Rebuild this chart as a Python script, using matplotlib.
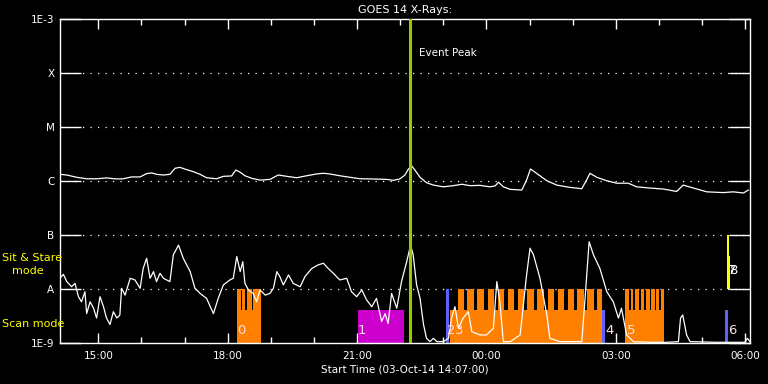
import matplotlib
matplotlib.use("Agg")
import matplotlib.pyplot as plt
from matplotlib.ticker import FixedLocator, FuncFormatter

# hours since 00:00 on 03-Oct-14
t_long = [14.11, 14.27, 14.5, 14.73, 14.96, 15.19, 15.43, 15.58, 15.77, 15.97,
          16.12, 16.24, 16.35, 16.51, 16.66, 16.78, 16.89, 17.05, 17.2, 17.36,
          17.51, 17.74, 17.9, 18.09, 18.19, 18.29, 18.4, 18.56, 18.75, 18.98,
          19.17, 19.37, 19.6, 19.83, 20.06, 20.22, 20.37, 20.6, 20.84, 21.07,
          21.38, 21.69, 21.84, 21.99, 22.11, 22.19, 22.27, 22.34, 22.46, 22.61,
          22.77, 23.0, 23.23, 23.43, 23.62, 23.85, 24.08, 24.2, 24.28, 24.39,
          24.55, 24.82, 24.93, 25.02, 25.16, 25.4, 25.63, 25.94, 26.21, 26.32,
          26.4, 26.56, 26.79, 27.02, 27.29, 27.48, 27.79, 28.1, 28.41, 28.56,
          28.8, 29.11, 29.49, 29.72, 29.96, 30.07]
flux_long = [1.33e-6, 1.29e-6, 1.17e-6, 1.1e-6, 1.1e-6, 1.14e-6, 1.09e-6, 1.1e-6, 1.19e-6, 1.19e-6,
             1.37e-6, 1.41e-6, 1.33e-6, 1.29e-6, 1.33e-6, 1.72e-6, 1.79e-6, 1.62e-6, 1.49e-6, 1.33e-6,
             1.15e-6, 1.1e-6, 1.22e-6, 1.24e-6, 1.6e-6, 1.45e-6, 1.25e-6, 1.12e-6, 1.04e-6, 1.07e-6,
             1.29e-6, 1.22e-6, 1.15e-6, 1.25e-6, 1.35e-6, 1.39e-6, 1.35e-6, 1.25e-6, 1.17e-6, 1.1e-6,
             1.09e-6, 1.07e-6, 1.03e-6, 1.09e-6, 1.29e-6, 1.67e-6, 1.89e-6, 1.6e-6, 1.17e-6, 0.93e-6,
             0.84e-6, 0.78e-6, 0.82e-6, 0.87e-6, 0.82e-6, 0.83e-6, 0.78e-6, 0.81e-6, 0.95e-6, 0.78e-6,
             0.7e-6, 0.68e-6, 1.04e-6, 1.67e-6, 1.39e-6, 1.01e-6, 0.84e-6, 0.76e-6, 0.72e-6, 1.04e-6,
             1.39e-6, 1.17e-6, 1.01e-6, 0.91e-6, 0.91e-6, 0.78e-6, 0.74e-6, 0.71e-6, 0.64e-6, 0.84e-6,
             0.74e-6, 0.63e-6, 0.61e-6, 0.63e-6, 0.6e-6, 0.68e-6]

t_short = [14.11, 14.19, 14.27, 14.38, 14.46, 14.54, 14.61, 14.69, 14.73, 14.81,
           14.89, 14.96, 15.04, 15.12, 15.19, 15.27, 15.35, 15.43, 15.5, 15.54,
           15.62, 15.74, 15.85, 15.97, 16.04, 16.12, 16.2, 16.28, 16.35, 16.43,
           16.51, 16.66, 16.74, 16.86, 16.97, 17.13, 17.24, 17.36, 17.51, 17.67,
           17.78, 17.9, 18.05, 18.13, 18.21, 18.29, 18.35, 18.4, 18.48, 18.59,
           18.67, 18.75, 18.87, 18.98, 19.06, 19.14, 19.21, 19.29, 19.41, 19.52,
           19.68, 19.79, 19.95, 20.1, 20.22, 20.33, 20.45, 20.6, 20.76, 20.87,
           20.99, 21.11, 21.22, 21.34, 21.45, 21.57, 21.65, 21.72, 21.8, 21.92,
           22.03, 22.15, 22.24, 22.3, 22.38, 22.46, 22.54, 22.61, 22.69, 22.77,
           22.85, 23.0, 23.12, 23.19, 23.27, 23.35, 23.46, 23.58, 23.66, 23.85,
           24.0, 24.16, 24.24, 24.31, 24.39, 24.55, 24.78, 24.93, 25.01, 25.09,
           25.24, 25.4, 25.47, 25.7, 26.01, 26.21, 26.28, 26.38, 26.48, 26.63,
           26.79, 26.94, 27.06, 27.13, 27.25, 27.41, 27.79, 28.18, 28.45, 28.5,
           28.55, 28.64, 28.72, 29.34, 29.99, 30.05, 30.11]
flux_short = [1.58e-8, 1.87e-8, 1.37e-8, 1.1e-8, 1.27e-8, 7.2e-9, 5.8e-9, 8.9e-9, 3.5e-9, 5.8e-9,
              4.4e-9, 2.9e-9, 7.2e-9, 4.7e-9, 2.9e-9, 2.2e-9, 3.8e-9, 2.9e-9, 3.3e-9, 1.03e-8,
              7.7e-9, 1.58e-8, 1.47e-8, 1.03e-8, 2.4e-8, 3.7e-8, 1.58e-8, 2.1e-8, 1.37e-8, 1.95e-8,
              1.58e-8, 1.37e-8, 4.3e-8, 6.5e-8, 3.7e-8, 2.1e-8, 1.03e-8, 8.3e-9, 6.7e-9, 3.5e-9,
              6.7e-9, 1.19e-8, 1.47e-8, 1.58e-8, 4.0e-8, 2.1e-8, 3.2e-8, 1.27e-8, 9.6e-9, 8.3e-9,
              5.8e-9, 9.6e-9, 7.7e-9, 8.3e-9, 1.03e-8, 2.1e-8, 1.69e-8, 1.19e-8, 1.82e-8, 1.27e-8,
              1.1e-8, 1.69e-8, 2.4e-8, 2.8e-8, 3.0e-8, 2.4e-8, 1.95e-8, 1.47e-8, 1.58e-8, 8.9e-9,
              7.2e-9, 9.6e-9, 6.3e-9, 4.7e-9, 6.7e-9, 2.5e-9, 3.5e-9, 2.3e-9, 8.3e-9, 4.4e-9,
              1.37e-8, 3.2e-8, 6.5e-8, 4.3e-8, 1.19e-8, 6.7e-9, 2.2e-9, 1.22e-9, 1.06e-9, 1.22e-9,
              1.06e-9, 1.06e-9, 1.22e-9, 2.9e-9, 4.7e-9, 1.87e-9, 2.9e-9, 3.8e-9, 1.62e-9, 1.41e-9,
              1.41e-9, 1.87e-9, 1.37e-8, 5.8e-9, 1.06e-9, 1.06e-9, 1.41e-9, 1.82e-8, 5.7e-8, 4.3e-8,
              1.58e-8, 3.3e-9, 1.22e-9, 1.06e-9, 1.06e-9, 1.06e-9, 5.8e-9, 7.5e-8, 4.3e-8, 2.4e-8,
              8.9e-9, 5.8e-9, 2.9e-9, 4.4e-9, 1.41e-9, 1.06e-9, 1.03e-9, 1.03e-9, 1.06e-9, 2.9e-9,
              3.3e-9, 1.41e-9, 1.06e-9, 1.03e-9, 1.03e-9, 1.22e-9, 1.06e-9]

# scan mode rasters: (start, end) in hours
scan_tall = [(18.21, 18.30), (18.33, 18.41), (18.44, 18.56), (18.59, 18.77),
             (23.33, 23.49), (23.56, 23.72), (23.79, 23.95), (24.03, 24.18),
             (24.26, 24.41), (24.49, 24.64), (24.72, 24.88), (24.95, 25.11),
             (25.18, 25.34), (25.42, 25.57), (25.65, 25.80), (25.88, 26.04),
             (26.11, 26.27), (26.34, 26.50), (26.57, 26.67),
             (27.21, 27.31), (27.36, 27.40), (27.45, 27.54), (27.58, 27.66),
             (27.70, 27.78), (27.82, 27.90), (27.94, 28.01), (28.05, 28.12)]
scan_base = [(18.21, 18.77), (23.15, 26.67), (27.21, 28.12)]
magenta_base = [(21.02, 22.08)]
blue_tall = [(23.06, 23.12)]
blue_base = [(26.67, 26.75), (29.53, 29.59)]
sas_bars = [(29.58, 29.62, 1e-7), (29.62, 29.645, 4.1e-8)]
raster_labels = ['0', '1', '2', '3', '4', '5', '6']
raster_label_t = [18.21, 21.02, 23.08, 23.27, 26.75, 27.25, 29.6]
sit_labels = ['7', '8']
sit_label_t = [29.6, 29.63]
t_peak = 22.23
base_top = 4.1e-9

plt.rcParams['font.family'] = ['DejaVu Sans']
fig = plt.figure(figsize=(7.68, 3.84), dpi=100, facecolor='black')
ax = fig.add_axes([60 / 768, 41 / 384, 690 / 768, 324 / 384])
ax.set_facecolor('black')
ax.set_yscale('log')
ax.set_ylim(1e-9, 1e-3)
ax.set_xlim(14.112, 30.11)

orange = '#ff8000'
for a, b in scan_base:
    ax.fill_between([a, b], 1e-9, base_top, color=orange, lw=0, zorder=2)
for a, b in scan_tall:
    ax.fill_between([a, b], 1e-9, 1e-8, color=orange, lw=0, zorder=2)
for a, b in magenta_base:
    ax.fill_between([a, b], 1e-9, base_top, color='#cc00cc', lw=0, zorder=2)
for a, b in blue_tall:
    ax.fill_between([a, b], 1e-9, 1e-8, color='#6060ff', lw=0, zorder=2)
for a, b in blue_base:
    ax.fill_between([a, b], 1e-9, base_top, color='#6060ff', lw=0, zorder=2)
for a, b, top in sas_bars:
    ax.fill_between([a, b], 1e-8, top, color='#ffff00', lw=0, zorder=2)

# dotted class levels
for lev in [1e-8, 1e-7, 1e-6, 1e-5, 1e-4]:
    ax.axhline(lev, color='white', lw=0.9, ls=(0, (1, 5)), zorder=1)

ax.plot(t_long, flux_long, color='white', lw=0.9, zorder=3)
ax.plot(t_short, flux_short, color='white', lw=0.9, zorder=3)

ax.axvline(t_peak, color='#99cc00', lw=2.2, zorder=4)
ax.text(t_peak + 0.2, 2.3e-4, 'Event Peak', color='white', fontsize=7.5, va='center')

for lab, t in zip(raster_labels, raster_label_t):
    ax.text(t, 1.7e-9, lab, color='#ffe0e0', fontsize=9.5, va='center', ha='left', zorder=5)
for lab, t in zip(sit_labels, sit_label_t):
    ax.text(t, 2.2e-8, lab, color='white', fontsize=9.5, va='center', ha='left', zorder=5)

# axes styling
for sp in ax.spines.values():
    sp.set_color('white')
    sp.set_linewidth(1.0)
ax.yaxis.set_major_locator(FixedLocator([1e-9, 1e-8, 1e-7, 1e-6, 1e-5, 1e-4, 1e-3]))
ax.yaxis.set_minor_locator(FixedLocator([]))
ax.set_yticklabels(['1E-9', 'A', 'B', 'C', 'M', 'X', '1E-3'])
ax.tick_params(axis='y', which='major', direction='in', length=15, width=1.0,
               colors='white', labelsize=7.5, left=True, right=True, pad=4)
ax.xaxis.set_major_locator(FixedLocator([15, 18, 21, 24, 27, 30]))
ax.xaxis.set_minor_locator(FixedLocator(list(range(15, 31))))
ax.xaxis.set_major_formatter(FuncFormatter(lambda v, p: f"{int(round(v)) % 24:02d}:00"))
ax.tick_params(axis='x', which='major', direction='in', length=7, width=1.0,
               colors='white', labelsize=7.5, top=True, bottom=True, pad=6)
ax.tick_params(axis='x', which='minor', direction='in', length=4, width=1.0,
               colors='white', top=True, bottom=True)
ax.set_xlabel('Start Time (03-Oct-14 14:07:00)', color='white', fontsize=7.5, labelpad=2)
ax.set_title('GOES 14 X-Rays:', color='white', fontsize=8, pad=4)

fig.text(2 / 768, 1 - 258 / 384, 'Sit & Stare', color='#ffff00', fontsize=8, va='center', ha='left')
fig.text(12 / 768, 1 - 271 / 384, 'mode', color='#ffff00', fontsize=8, va='center', ha='left')
fig.text(2 / 768, 1 - 324 / 384, 'Scan mode', color='#ffff00', fontsize=8, va='center', ha='left')

fig.savefig('out.png', dpi=100, facecolor='black')
